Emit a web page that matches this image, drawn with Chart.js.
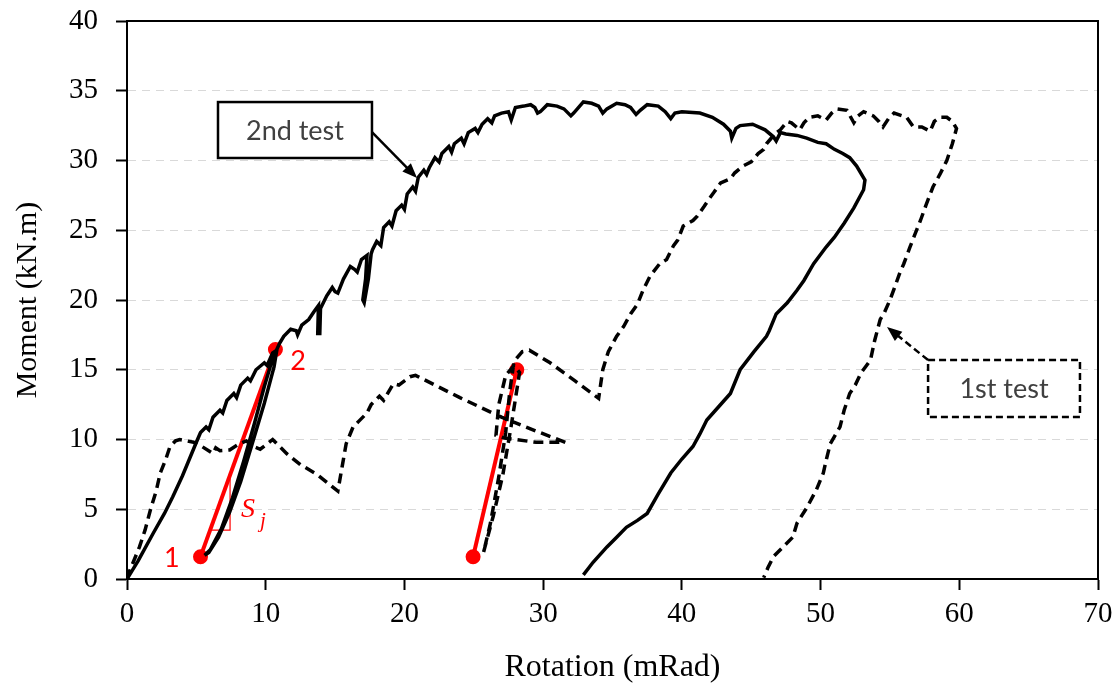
<!DOCTYPE html>
<html>
<head>
<meta charset="utf-8">
<script src="https://cdn.jsdelivr.net/npm/chart.js@4.4.0/dist/chart.umd.min.js"></script>
<style>
  html, body { margin: 0; padding: 0; background: #fff; }
  #wrap { width: 1120px; height: 688px; }
</style>
</head>
<body>
<div id="wrap"><canvas id="momentChart" width="1120" height="688"></canvas></div>
<script>
// Moment-rotation data (rotation in mRad, moment in kN.m)
const test2Rot = [0, 0.8, 1.9, 2.7, 3.3, 4.0, 4.5, 5.0, 5.3, 5.7, 5.9, 6.2, 6.7, 6.9, 7.2, 7.7, 7.9, 8.2, 8.7, 8.9, 9.3, 9.9, 10.1, 10.5, 10.8,
  10.6, 9.9, 9.0, 8.2, 7.4, 6.6, 5.9, 5.6, 6.0, 6.8, 7.6, 8.4, 9.2, 9.9, 10.5, 11.0,
  11.3, 11.8, 12.2, 12.3, 12.6, 13.1, 13.5, 13.8, 13.75, 13.9, 13.95, 14.4, 14.8, 15.0, 15.2, 15.6, 16.1, 16.4, 16.6, 16.9, 17.3,
  17.2, 17.0, 17.1, 17.4, 17.6, 17.7, 18.0, 18.3, 18.5, 18.9, 19.1, 19.4, 19.8, 20.0, 20.2, 20.6, 20.8, 21.0, 21.4, 21.6, 21.8,
  22.2, 22.5, 22.7, 23.2, 23.4, 23.6, 24.1, 24.3, 24.6, 25.1, 25.3, 25.6, 26.0, 26.3, 26.5, 27.0, 27.5, 27.7, 28.0, 28.6, 29.1,
  29.4, 29.6, 29.8, 30.3, 31.0, 31.5, 32.0, 32.2, 32.9, 33.5, 34.0, 34.3, 34.6, 35.3, 35.9, 36.3, 36.7, 37.0, 37.5, 38.3, 38.8,
  39.2, 39.5, 40.0, 41.3, 42.2, 43.0, 43.5, 43.6, 43.9, 44.2, 45.1, 46.0, 46.6, 46.8, 47.1, 47.5, 48.3, 49.0, 49.8, 50.4, 51.0,
  51.6, 52.1, 52.6, 53.2, 53.1, 52.4, 51.7, 51.0, 50.4, 49.5, 48.8, 48.3, 47.6, 46.8, 46.3, 46.1, 45.2, 44.2, 43.5, 42.7, 41.8,
  41.3, 40.8, 40.0, 39.2, 38.3, 37.5, 36.8, 36.0, 35.3, 34.6, 33.6, 32.9];
const test2Mom = [0, 1.3, 3.3, 4.7, 5.9, 7.4, 8.6, 9.8, 10.5, 10.9, 10.7, 11.6, 12.1, 11.9, 12.8, 13.3, 13.0, 13.9, 14.4, 14.2, 15.0, 15.5, 15.3, 16.2, 16.4,
  15.2, 12.6, 9.6, 7.0, 4.8, 3.0, 1.9, 1.7, 2.1, 3.6, 5.8, 8.4, 11.2, 13.8, 15.8, 16.9,
  17.4, 17.9, 17.8, 17.5, 18.2, 18.6, 19.2, 19.6, 17.6, 17.6, 19.4, 20.3, 20.9, 20.6, 20.5, 21.5, 22.4, 22.2, 22.0, 22.9, 23.2,
  21.5, 20.0, 19.8, 21.5, 23.3, 23.6, 24.2, 23.9, 25.2, 25.6, 25.3, 26.4, 26.8, 26.5, 27.6, 28.1, 27.8, 28.8, 29.3, 29.0, 29.5,
  30.2, 29.9, 30.5, 31.0, 30.6, 31.2, 31.6, 31.2, 32.0, 32.3, 32.0, 32.6, 33.0, 32.7, 33.2, 33.4, 33.5, 32.9, 33.8, 33.9, 34.0,
  33.8, 33.4, 33.5, 34.0, 33.9, 33.7, 33.2, 33.4, 34.2, 34.1, 33.9, 33.4, 33.7, 34.1, 34.0, 33.8, 33.3, 33.6, 34.0, 33.9, 33.5,
  33.0, 33.4, 33.5, 33.4, 33.1, 32.6, 32.1, 31.6, 32.3, 32.5, 32.6, 32.2, 31.7, 31.4, 32.0, 31.9, 31.8, 31.6, 31.3, 31.2, 30.8,
  30.5, 30.2, 29.6, 28.6, 27.9, 26.6, 25.5, 24.5, 23.8, 22.6, 21.4, 20.7, 19.8, 19.0, 17.8, 17.4, 16.3, 15.0, 13.3, 12.4, 11.4,
  10.4, 9.5, 8.6, 7.6, 6.1, 4.7, 4.2, 3.7, 3.0, 2.3, 1.2, 0.3];

const test1Rot = [0, 0.2, 0.9, 1.3, 1.7, 2.1, 2.4, 2.8, 3.1, 3.5, 3.8, 4.3, 4.8, 5.4, 6.2, 6.4, 6.7, 7.4, 8.1, 8.6, 9.1, 9.6, 10.0, 10.5,
  11.5, 12.5, 13.7, 15.2, 15.5, 15.8, 16.3, 16.7, 17.3, 17.6, 18.2, 18.5, 19.2, 19.6, 20.4, 20.8, 24.0, 27.0, 29.5, 31.6,
  29.5, 27.2, 26.6, 26.8, 27.3, 27.9, 28.3, 27.7, 27.1, 26.4, 25.7, 26.2, 26.8, 27.3, 27.6, 27.9, 28.5, 29.0, 30.5, 32.3, 34.0,
  34.3, 34.7, 35.3, 35.8, 36.3, 36.8, 37.2, 37.7, 38.4, 38.9, 39.4, 39.7, 40.1, 40.8, 41.1, 41.6, 42.0, 42.3, 42.8, 43.5, 43.8,
  44.4, 45.0, 45.5, 45.9, 46.1, 46.7, 47.1, 47.6, 47.9, 48.5, 48.8, 49.2, 49.8, 50.4, 50.8, 51.2, 51.9, 52.4, 52.7, 53.1, 53.8,
  54.2, 54.5, 54.9, 55.3, 56.2, 56.7, 57.3, 57.9, 58.2, 58.6, 59.1, 59.5, 59.8, 59.5, 59.1, 58.6, 58.1, 57.6, 57.2, 56.8, 56.45,
  56.0, 55.7, 55.3, 55.0, 54.6, 54.3, 53.9, 53.6, 52.9, 52.5, 52.1, 51.7, 51.4, 50.7, 50.4, 50.2, 49.7, 49.0, 48.3, 48.0, 47.3,
  46.6, 46.2, 45.9];
const test1Mom = [0, 0.6, 2.3, 3.5, 5.0, 6.3, 7.6, 8.6, 9.5, 9.9, 10.0, 9.9, 9.8, 9.5, 9.0, 9.4, 9.2, 9.25, 9.7, 9.9, 9.5, 9.3, 9.6, 10.0,
  9.0, 8.2, 7.5, 6.3, 8.0, 9.7, 10.9, 11.3, 11.9, 12.5, 13.1, 12.8, 14.0, 13.9, 14.5, 14.6, 13.0, 11.6, 10.6, 9.8,
  9.8, 10.1, 10.3, 12.5, 14.6, 15.3, 14.8, 11.0, 7.5, 4.5, 1.9, 4.0, 7.3, 10.5, 13.5, 15.6, 16.3, 16.4, 15.5, 14.2, 12.95,
  15.0, 16.3, 17.4, 18.1, 19.0, 19.7, 20.7, 21.7, 22.6, 22.9, 23.9, 24.3, 25.3, 25.7, 26.0, 26.7, 27.3, 27.7, 28.4, 28.7, 29.1,
  29.6, 29.9, 30.5, 30.8, 31.2, 31.9, 32.2, 32.8, 32.7, 32.2, 32.7, 33.1, 33.2, 32.9, 33.4, 33.7, 33.6, 32.7, 33.2, 33.5, 33.2,
  32.8, 32.4, 33.0, 33.4, 33.1, 32.4, 32.4, 32.1, 32.8, 33.1, 33.1, 32.8, 32.3, 31.2, 30.0, 29.0, 28.1, 26.8, 25.7, 24.7, 23.8,
  22.6, 21.9, 20.8, 20.0, 19.1, 18.6, 17.1, 15.7, 14.75, 13.9, 13.3, 12.1, 10.9, 9.7, 8.5, 7.6, 6.4, 5.1, 4.0, 3.0, 2.3,
  1.6, 0.8, 0.1];

// secant stiffness lines (points 1 -> 2)
const secantARot = [5.3, 10.7];
const secantAMom = [1.6, 16.45];
const secantBRot = [24.95, 28.1];
const secantBMom = [1.6, 15.0];
// small slope triangle under the first secant
const slopeRot = [6.0, 7.43, 7.43];
const slopeMom = [3.5, 3.5, 7.3];

const xTicks = [0, 10, 20, 30, 40, 50, 60, 70];
const yTicks = [0, 5, 10, 15, 20, 25, 30, 35, 40];

const pts = (xs, ys) => xs.map((x, i) => ({ x: x, y: ys[i] }));

// annotation anchors in data units
const notes = {
  box2: { x1: 6.56, y1: 34.19, x2: 17.66, y2: 30.18, text: "2nd test", dashed: false,
          arrow: [17.66, 32.04, 20.91, 28.75] },
  box1: { x1: 57.75, y1: 15.7, x2: 68.7, y2: 11.61, text: "1st test", dashed: true,
          arrow: [57.75, 15.7, 54.79, 18.06] },
};

const RED = "#ff0000";

const annotatePlugin = {
  id: "annotate",
  afterDraw(chart) {
    const { ctx, chartArea: a, scales } = chart;
    const X = (v) => scales.x.getPixelForValue(v);
    const Y = (v) => scales.y.getPixelForValue(v);

    // frame
    ctx.save();
    ctx.setLineDash([]);
    ctx.strokeStyle = "#000";
    ctx.lineWidth = 2;
    ctx.strokeRect(a.left, a.top, a.right - a.left, a.bottom - a.top);

    // boxes with arrows
    Object.values(notes).forEach((n) => {
      const x1 = X(n.x1), y1 = Y(n.y1), x2 = X(n.x2), y2 = Y(n.y2);
      ctx.fillStyle = "#fff";
      ctx.fillRect(x1, y1, x2 - x1, y2 - y1);
      ctx.lineWidth = 2.5;
      ctx.strokeStyle = "#000";
      ctx.setLineDash(n.dashed ? [7, 4] : []);
      ctx.strokeRect(x1, y1, x2 - x1, y2 - y1);
      ctx.fillStyle = "#404040";
      ctx.font = "27px Lato";
      ctx.textAlign = "center";
      ctx.textBaseline = "middle";
      ctx.fillText(n.text, (x1 + x2) / 2, (y1 + y2) / 2 + 1);

      const ax = X(n.arrow[0]), ay = Y(n.arrow[1]), bx = X(n.arrow[2]), by = Y(n.arrow[3]);
      const ang = Math.atan2(by - ay, bx - ax);
      const head = 16;
      ctx.lineWidth = 2.5;
      ctx.beginPath();
      ctx.moveTo(ax, ay);
      ctx.lineTo(bx - Math.cos(ang) * head * 0.8, by - Math.sin(ang) * head * 0.8);
      ctx.stroke();
      ctx.setLineDash([]);
      ctx.fillStyle = "#000";
      ctx.beginPath();
      ctx.moveTo(bx, by);
      ctx.lineTo(bx - head * Math.cos(ang - 0.38), by - head * Math.sin(ang - 0.38));
      ctx.lineTo(bx - head * Math.cos(ang + 0.38), by - head * Math.sin(ang + 0.38));
      ctx.closePath();
      ctx.fill();
    });

    // red labels
    ctx.fillStyle = RED;
    ctx.textAlign = "center";
    ctx.textBaseline = "middle";
    ctx.font = "27px Lato";
    ctx.fillText("1", X(3.24), Y(1.51));
    ctx.fillText("2", X(12.33), Y(15.63));
    ctx.font = "italic 28px 'Liberation Serif'";
    ctx.fillText("S", X(8.72), Y(4.95));
    ctx.font = "italic 21px 'Liberation Serif'";
    ctx.fillText("j", X(9.8), Y(4.1));
    ctx.restore();
  },
};

const chart = new Chart(document.getElementById("momentChart"), {
  type: "scatter",
  data: {
    datasets: [
      { label: "1st test", data: pts(test1Rot, test1Mom), showLine: true, borderColor: "#000",
        borderWidth: 3.5, borderDash: [10, 6], pointRadius: 0, tension: 0 },
      { label: "2nd test", data: pts(test2Rot, test2Mom), showLine: true, borderColor: "#000",
        borderWidth: 3.5, pointRadius: 0, tension: 0 },
      { label: "slope", data: pts(slopeRot, slopeMom), showLine: true, borderColor: RED,
        borderWidth: 1.2, pointRadius: 0 },
      { label: "secant A", data: pts(secantARot, secantAMom), showLine: true, borderColor: RED,
        borderWidth: 4, pointRadius: 5.5, pointBackgroundColor: RED, pointBorderColor: RED },
      { label: "secant B", data: pts(secantBRot, secantBMom), showLine: true, borderColor: RED,
        borderWidth: 4, pointRadius: 5.5, pointBackgroundColor: RED, pointBorderColor: RED },
    ],
  },
  options: {
    responsive: false,
    animation: false,
    devicePixelRatio: 1,
    layout: { padding: { top: 21, right: 22, left: 0, bottom: 0 } },
    plugins: { legend: { display: false }, tooltip: { enabled: false } },
    scales: {
      x: {
        type: "linear", min: 0, max: 70,
        afterBuildTicks: (s) => { s.ticks = xTicks.map((v) => ({ value: v })); },
        afterFit: (s) => { s.height = 109; s.paddingLeft = 0; s.paddingRight = 0; },
        ticks: { color: "#000", padding: 7, maxRotation: 0, font: { family: "'Liberation Serif'", size: 29 } },
        grid: { drawOnChartArea: false, drawTicks: true, tickLength: 11, tickColor: "#000", tickWidth: 2 },
        border: { color: "#000", width: 2 },
        title: { display: true, text: "Rotation (mRad)", color: "#000",
                 font: { family: "'Liberation Serif'", size: 32 }, padding: { top: 0, bottom: 1 } },
      },
      y: {
        type: "linear", min: 0, max: 40,
        afterBuildTicks: (s) => { s.ticks = yTicks.map((v) => ({ value: v })); },
        afterFit: (s) => { s.width = 127; s.paddingTop = 0; s.paddingBottom = 0; },
        ticks: { color: "#000", padding: 18, font: { family: "'Liberation Serif'", size: 29 } },
        grid: { color: "#d9d9d9", lineWidth: 1, tickLength: 11, tickColor: "#000", tickWidth: 2 },
        border: { color: "#000", width: 2, dash: [8, 6] },
        title: { display: true, text: "Moment (kN.m)", color: "#000",
                 font: { family: "'Liberation Serif'", size: 30 }, padding: { top: 10, bottom: 0 } },
      },
    },
  },
  plugins: [annotatePlugin],
});
</script>
</body>
</html>
